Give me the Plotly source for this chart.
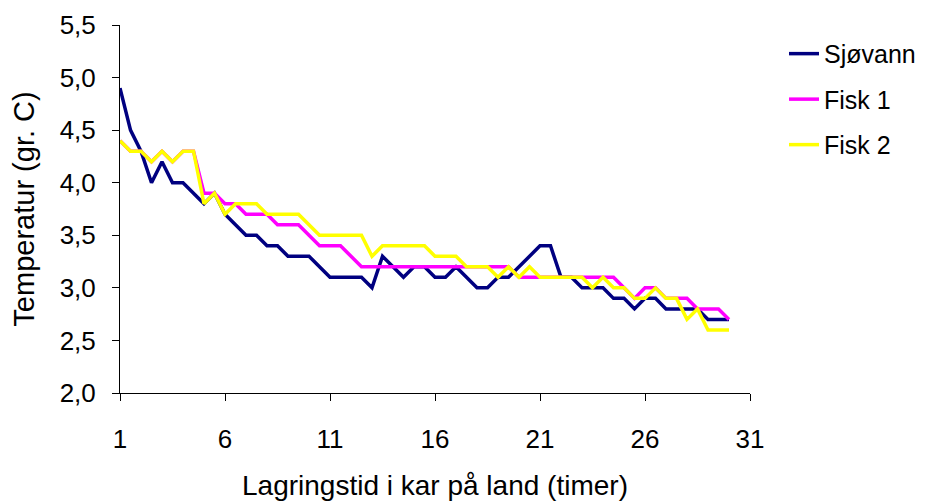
import plotly.graph_objects as go

# Lagringstid (timer), målt hver halve time
timer = [1, 1.5, 2, 2.5, 3, 3.5, 4, 4.5, 5, 5.5,
         6, 6.5, 7, 7.5, 8, 8.5, 9, 9.5, 10, 10.5,
         11, 11.5, 12, 12.5, 13, 13.5, 14, 14.5, 15, 15.5,
         16, 16.5, 17, 17.5, 18, 18.5, 19, 19.5, 20, 20.5,
         21, 21.5, 22, 22.5, 23, 23.5, 24, 24.5, 25, 25.5,
         26, 26.5, 27, 27.5, 28, 28.5, 29, 29.5, 30]

sjovann = [4.9, 4.5, 4.3, 4.0, 4.2, 4.0, 4.0, 3.9, 3.8, 3.9,
           3.7, 3.6, 3.5, 3.5, 3.4, 3.4, 3.3, 3.3, 3.3, 3.2,
           3.1, 3.1, 3.1, 3.1, 3.0, 3.3, 3.2, 3.1, 3.2, 3.2,
           3.1, 3.1, 3.2, 3.1, 3.0, 3.0, 3.1, 3.1, 3.2, 3.3,
           3.4, 3.4, 3.1, 3.1, 3.0, 3.0, 3.0, 2.9, 2.9, 2.8,
           2.9, 2.9, 2.8, 2.8, 2.8, 2.8, 2.7, 2.7, 2.7]

fisk1 = [4.4, 4.3, 4.3, 4.2, 4.3, 4.2, 4.3, 4.3, 3.9, 3.9,
         3.8, 3.8, 3.7, 3.7, 3.7, 3.6, 3.6, 3.6, 3.5, 3.4,
         3.4, 3.4, 3.3, 3.2, 3.2, 3.2, 3.2, 3.2, 3.2, 3.2,
         3.2, 3.2, 3.2, 3.2, 3.2, 3.2, 3.2, 3.2, 3.1, 3.1,
         3.1, 3.1, 3.1, 3.1, 3.1, 3.1, 3.1, 3.1, 3.0, 2.9,
         3.0, 3.0, 2.9, 2.9, 2.9, 2.8, 2.8, 2.8, 2.7]

fisk2 = [4.4, 4.3, 4.3, 4.2, 4.3, 4.2, 4.3, 4.3, 3.8, 3.9,
         3.7, 3.8, 3.8, 3.8, 3.7, 3.7, 3.7, 3.7, 3.6, 3.5,
         3.5, 3.5, 3.5, 3.5, 3.3, 3.4, 3.4, 3.4, 3.4, 3.4,
         3.3, 3.3, 3.3, 3.2, 3.2, 3.2, 3.1, 3.2, 3.1, 3.2,
         3.1, 3.1, 3.1, 3.1, 3.1, 3.0, 3.1, 3.0, 3.0, 2.9,
         2.9, 3.0, 2.9, 2.9, 2.7, 2.8, 2.6, 2.6, 2.6]

x_ticks = [1, 6, 11, 16, 21, 26, 31]
y_ticks = [2.0, 2.5, 3.0, 3.5, 4.0, 4.5, 5.0, 5.5]

FONT = "Liberation Sans, Arial, sans-serif"

series = [
    ("Sjøvann", sjovann, "#000080"),
    ("Fisk 1", fisk1, "#FF00FF"),
    ("Fisk 2", fisk2, "#FFFF00"),
]

fig = go.Figure()
for name, vals, color in series:
    fig.add_trace(go.Scatter(
        x=timer, y=vals, name=name, mode="lines",
        line=dict(color=color, width=3.5),
        legendgroup=name,
    ))

# the page body adds an 8px offset, so margins are shifted to compensate
fig.update_layout(
    width=929, height=503,
    margin=dict(l=112, r=187, t=17, b=118, autoexpand=False),
    paper_bgcolor="white", plot_bgcolor="white",
    separators=", ",
    font=dict(family=FONT, size=26, color="black"),
    showlegend=True,
    legend=dict(x=1.054, y=0.984, xanchor="left", yanchor="top",
                tracegroupgap=10, font=dict(size=25),
                bgcolor="rgba(0,0,0,0)"),
)
fig.update_xaxes(
    range=[1, 31], tickvals=x_ticks, ticktext=[str(t) for t in x_ticks],
    showline=True, linecolor="black", linewidth=1,
    ticks="outside", ticklen=7, tickcolor="black",
    showgrid=False, zeroline=False, ticklabelstandoff=16, automargin=False,
    title=dict(text="Lagringstid i kar på land (timer)", font=dict(size=28), standoff=22),
)
fig.update_yaxes(
    range=[2, 5.5], tickvals=y_ticks, tickformat=".1f",
    showline=True, linecolor="black", linewidth=1,
    ticks="outside", ticklen=7, tickcolor="black",
    showgrid=False, zeroline=False, ticklabelstandoff=11, automargin=False,
    title=dict(text="Temperatur (gr. C)", font=dict(size=29), standoff=24),
)

fig.write_html("out.html")
